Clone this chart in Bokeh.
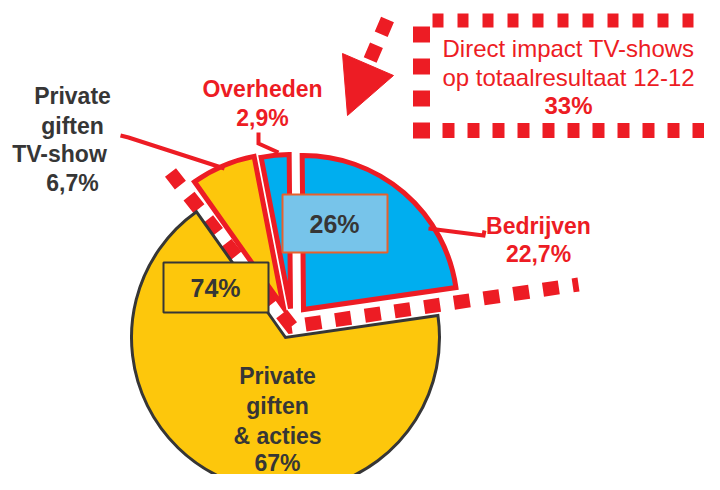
import math
from bokeh.plotting import figure
from bokeh.models import Range1d
from bokeh.core.properties import value
from bokeh.embed import file_html
from bokeh.resources import INLINE

# ---------------- data ----------------
categories = ["Bedrijven", "Overheden", "Private giften TV-show", "Private giften & acties"]
shares = [22.7, 2.9, 6.7, 67.0]
share_labels = ["22,7%", "2,9%", "6,7%", "67%"]
label_lines = [["Bedrijven", share_labels[0]],
               ["Overheden", share_labels[1]],
               ["Private", "giften", "TV-show", share_labels[2]],
               ["Private", "giften", "& acties", share_labels[3]]]
group_labels = ["74%", "26%"]
headline = ["Direct impact TV-shows", "op totaalresultaat 12-12", "33%"]

# ---------------- layout / style ----------------
H = 490
def Y(v):
    return H - v

RED = "#ED1C24"
DARK = "#363636"
YEL = "#FDC70C"
BLUE = "#00AEEF"
FONT = value("Liberation Sans")

p = figure(width=704, height=474, x_range=Range1d(0, 704), y_range=Range1d(16, 490),
           output_backend="svg", toolbar_location=None, min_border=0)
p.axis.visible = False
p.grid.visible = False
p.outline_line_color = None
p.background_fill_color = "white"
p.border_fill_color = "white"

cx, cy = 285, Y(337)
R = 154
START = 8.2
explode = [(18, -28), (5, -29), (-2, -30), (0, 0)]
fills = [BLUE, BLUE, YEL, YEL]
strokes = [RED, RED, RED, DARK]
widths = [5, 5, 5, 3]

total = sum(shares)
starts, ends = [], []
a = START
for s in shares:
    span = s / total * 360.0
    starts.append(math.radians(a))
    ends.append(math.radians(a + span))
    a += span

# dashed V line enclosing the direct-impact slices (beneath the wedges)
vx = [170, 291, 578]
vy = [Y(172), Y(326), Y(284)]
p.line(vx, vy, line_color=RED, line_width=14, line_dash="16 14", line_join="miter")

# wedges
for i in [3, 0, 1, 2]:
    dx, dy = explode[i]
    p.wedge(x=[cx + dx], y=[cy - dy], radius=R, start_angle=[starts[i]], end_angle=[ends[i]],
            fill_color=fills[i], line_color=strokes[i], line_width=widths[i], line_join="miter")

# group boxes
p.quad(left=[163], right=[268], top=[Y(262)], bottom=[Y(312)], fill_color=YEL,
       line_color=DARK, line_width=2)
p.quad(left=[282], right=[387], top=[Y(194)], bottom=[Y(252)], fill_color="#77C4EA",
       line_color="#E8602C", line_width=2)
p.text(x=[215, 334], y=[Y(287), Y(223)], text=group_labels, text_font=FONT,
       text_font_style="bold", text_font_size="25px", text_color=DARK,
       text_align="center", text_baseline="middle")

# leader lines
leaders = [([428, 483, 484], [228, 235, 230]),
           ([258, 258, 278], [132, 143, 152]),
           ([120, 128, 224], [135, 137, 168])]
for xs, ys in leaders:
    p.line(xs, [Y(v) for v in ys], line_color=RED, line_width=4, line_join="miter")

# labels
label_pos = [([538, 538], [225, 253], RED),
             ([262, 262], [88, 117], RED),
             ([72, 72, 59, 72], [95, 125, 153, 182], DARK),
             ([277, 277, 277, 277], [375, 405, 435, 462], DARK)]
for lines, (xs, ys, col) in zip(label_lines, label_pos):
    p.text(x=xs, y=[Y(v) for v in ys], text=lines, text_font=FONT, text_font_style="bold",
           text_font_size="23px", text_color=col, text_align="center", text_baseline="middle")

# dashed headline box
p.line([432, 720], [Y(20), Y(20)], line_color=RED, line_width=14, line_dash="11 14")
p.line([442, 720], [Y(130), Y(130)], line_color=RED, line_width=15, line_dash="12 13")
p.line([421, 421], [Y(26), Y(140)], line_color=RED, line_width=17, line_dash="16 16")
p.line([716, 716], [Y(25), Y(140)], line_color=RED, line_width=12, line_dash="13 20")

# arrow
p.line([387, 366], [Y(19), Y(68)], line_color=RED, line_width=14, line_dash="16 12")
p.patch([342, 393, 347], [Y(53), Y(75), Y(115)], fill_color=RED, line_color=RED, line_width=1)

# headline text
p.text(x=[568, 568], y=[Y(48), Y(77)], text=headline[:2], text_font=FONT,
       text_font_size="24px", text_color=RED, text_align="center", text_baseline="middle")
p.text(x=[568], y=[Y(105)], text=headline[2:], text_font=FONT, text_font_style="bold",
       text_font_size="24px", text_color=RED, text_align="center", text_baseline="middle")

open("out.html", "w").write(file_html(p, INLINE))
